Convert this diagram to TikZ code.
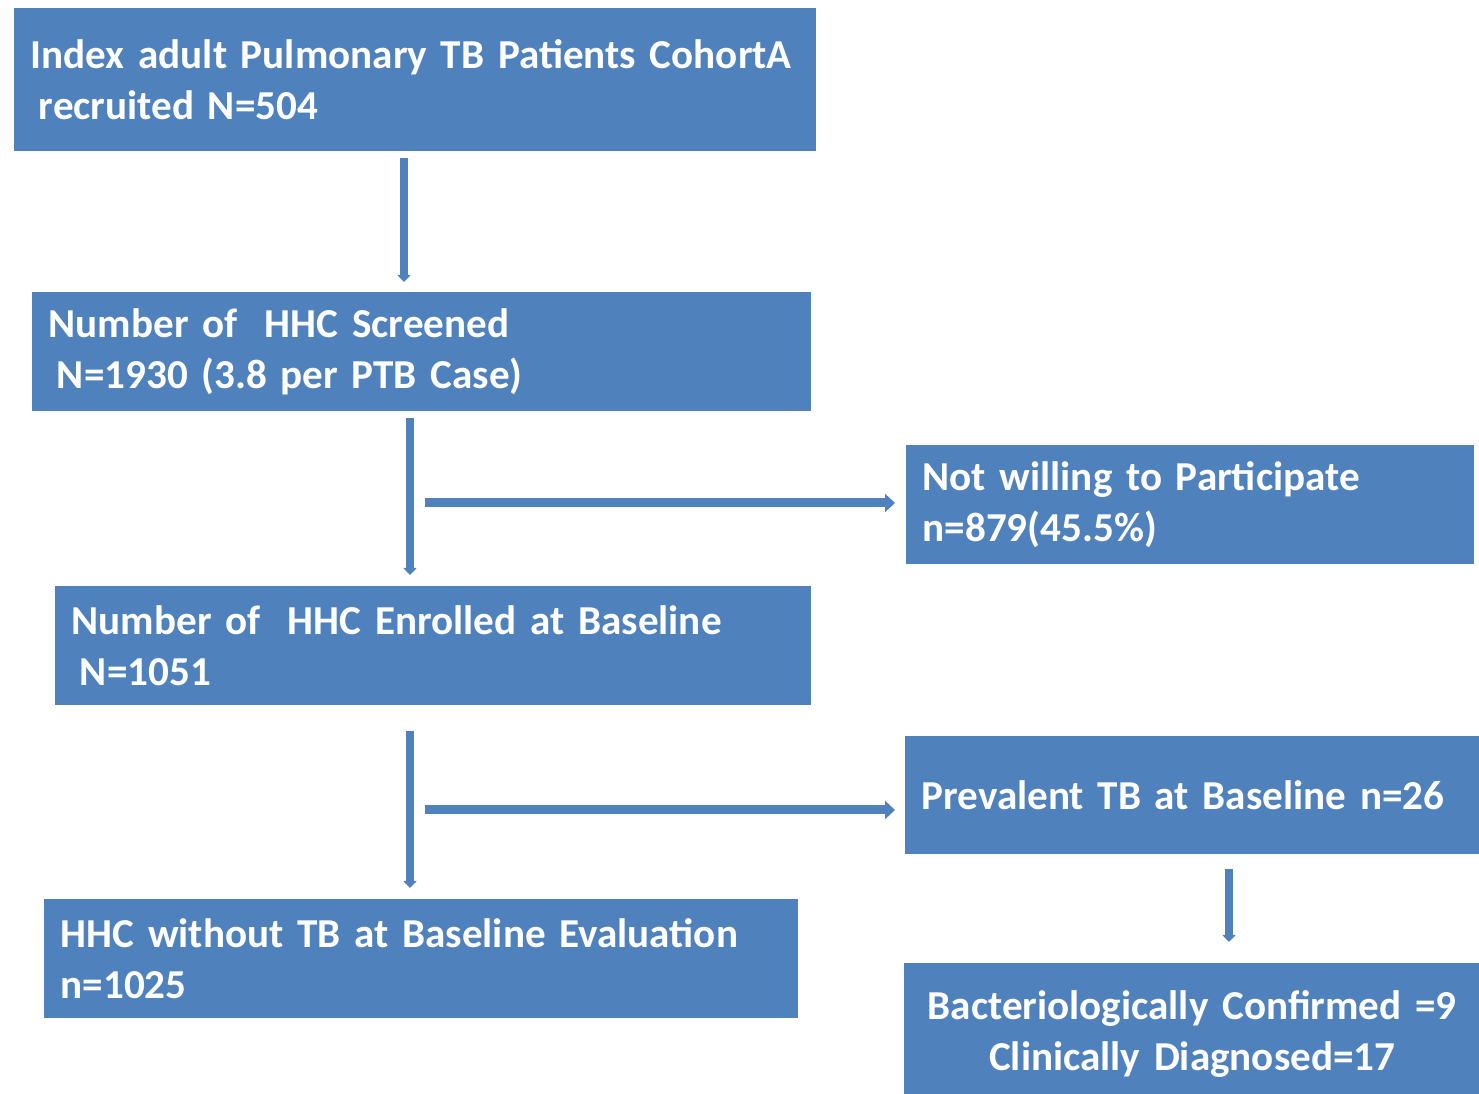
\documentclass[tikz,border=0pt]{standalone}
\usepackage{fontspec}
\setmainfont{Carlito}
\usetikzlibrary{arrows.meta}
\definecolor{flowblue}{HTML}{4F81BD}
\tikzset{
  box/.style={fill=flowblue, draw=flowblue, text=white, anchor=north west,
    align=left, inner xsep=1.6mm, inner ysep=0pt,
    font=\fontsize{11.7}{14.5}\selectfont\bfseries},
  varr/.style={draw=flowblue, line width=0.75mm, -{Triangle[width=1.3mm,length=0.7mm]}},
  harr/.style={draw=flowblue, line width=0.9mm, -{Triangle[width=1.8mm,length=1mm]}},
}
\newcommand{\tstrut}{\rule{0pt}{11.2pt}}
\begin{document}
\begin{tikzpicture}[x=0.1mm, y=-0.1mm]
  \useasboundingbox (0,0) rectangle (1479,1094);
  % left column
  \node[box, minimum width=80.1mm, text width=76.9mm, minimum height=14.2mm] (idx) at (14,8)
    {\mbox{Index adult Pulmonary TB Patients CohortA}\\\hspace*{0.2em}recruited N=504};
  \node[box, minimum width=77.8mm, text width=74.6mm, minimum height=11.8mm] (scr) at (32,292)
    {Number of\ \ HHC Screened\\\hspace*{0.2em}N=1930 (3.8 per PTB Case)};
  \node[box, minimum width=75.5mm, text width=72.3mm, minimum height=11.8mm] (enr) at (55,586)
    {Number of\ \ HHC Enrolled at Baseline\\\hspace*{0.2em}N=1051};
  \node[box, minimum width=75.3mm, text width=72.1mm, minimum height=11.8mm] (hhc) at (44,899)
    {HHC without TB at Baseline Evaluation\\n=1025};
  % right column
  \node[box, minimum width=56.7mm, text width=53.5mm, minimum height=11.8mm] (nw) at (906,445)
    {Not willing to Participate\\n=879(45.5\%)};
  \node[box, minimum width=57.4mm, text width=54.2mm, minimum height=11.7mm] (prev) at (905,736)
    {Prevalent TB at Baseline n=26};
  \node[box, align=center, minimum width=57.5mm, text width=54.3mm, minimum height=13mm] (bact) at (904,963)
    {\tstrut Bacteriologically Confirmed =9\\Clinically Diagnosed=17};
  % connectors
  \coordinate (a1) at (404,158);
  \coordinate (a2) at (410,418);
  \coordinate (a3) at (425,503);
  \coordinate (a4) at (410,731);
  \coordinate (a5) at (425,810);
  \coordinate (a6) at (1229,869);
  \draw[varr, shorten >=1mm] (a1) -- (a1 |- scr.north);
  \draw[varr, shorten >=1.1mm] (a2) -- (a2 |- enr.north);
  \draw[harr, shorten >=1.1mm] (a3) -- (a3 -| nw.west);
  \draw[varr, shorten >=1.1mm] (a4) -- (a4 |- hhc.north);
  \draw[harr, shorten >=1mm] (a5) -- (a5 -| prev.west);
  \draw[varr, shorten >=2.1mm] (a6) -- (a6 |- bact.north);
\end{tikzpicture}
\end{document}
